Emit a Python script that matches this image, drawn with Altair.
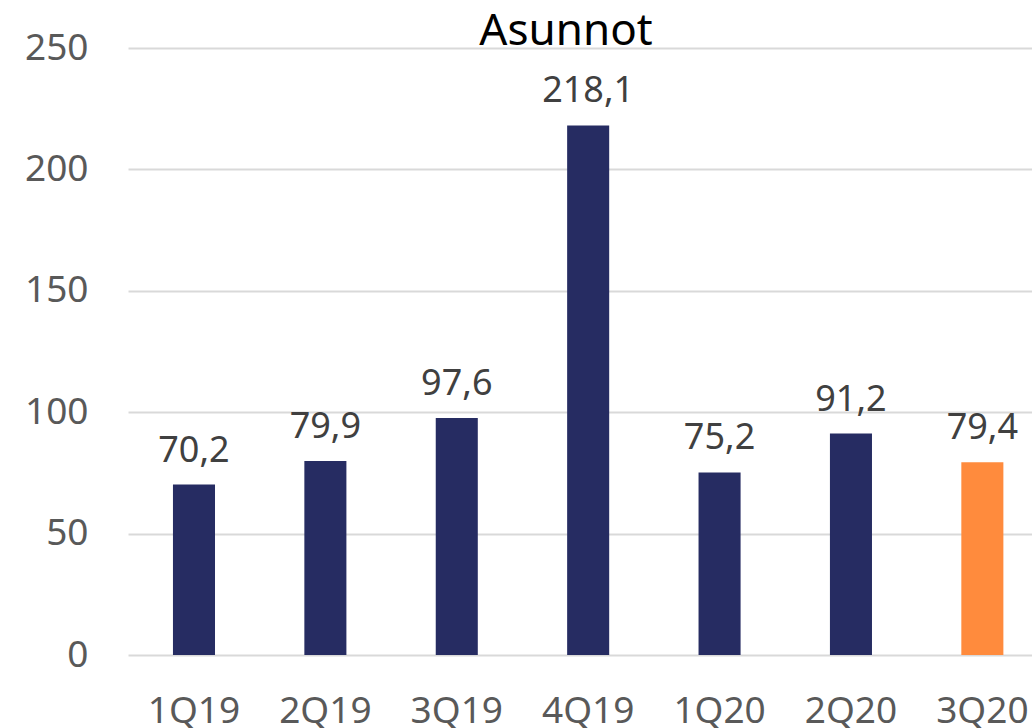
import altair as alt
import pandas as pd

quarters = ["1Q19", "2Q19", "3Q19", "4Q19", "1Q20", "2Q20", "3Q20"]
values = [70.2, 79.9, 97.6, 218.1, 75.2, 91.2, 79.4]
colors = ["#262C62", "#262C62", "#262C62", "#262C62", "#262C62", "#262C62", "#FF8B3D"]
y_ticks = [0, 50, 100, 150, 200, 250]
title_text = ["Asunnot"]

df = pd.DataFrame({
    "q": quarters,
    "v": values,
    "c": colors,
    "lbl": [f"{v:.1f}".replace(".", ",") for v in values],
})

FONT = "Noto Sans"

xscale = alt.Scale(paddingInner=0.68, paddingOuter=0.28, align=0.611)
yscale = alt.Scale(domain=[0, 250], nice=False, zero=True)

x = alt.X(
    "q:N", sort=quarters, title=None, scale=xscale,
    axis=alt.Axis(labelAngle=0, labelFontSize=37, labelColor="#595959", labelFont=FONT,
                  labelBaseline="alphabetic", labelPadding=67, ticks=False, domain=False,
                  grid=False, labelOverlap=False),
)
y = alt.Y(
    "v:Q", title=None, scale=yscale,
    axis=alt.Axis(values=y_ticks, labelFontSize=37, labelColor="#595959", labelFont=FONT,
                  labelPadding=40, ticks=False, domain=False, grid=True,
                  gridColor="#D9D9D9", gridWidth=1.8),
)

base = alt.Chart(df)
bars = base.mark_bar().encode(x=x, y=y, color=alt.Color("c:N", scale=None))
labels = base.mark_text(fontSize=36, font=FONT, color="#404040", baseline="alphabetic", dy=-23).encode(
    x=alt.X("q:N", sort=quarters, scale=xscale),
    y=alt.Y("v:Q", scale=yscale),
    text="lbl:N",
)
title = alt.Chart(pd.DataFrame({"t": title_text})).mark_text(
    fontSize=44, font=FONT, color="#000000", baseline="alphabetic", align="center"
).encode(x=alt.value(438), y=alt.value(-3), text="t:N")

chart = (bars + labels + title).properties(
    width=904,
    height=607,
    background="white",
    autosize=alt.AutoSizeParams(type="none"),
    padding={"left": 128, "top": 48, "right": 0, "bottom": 73},
).configure_view(strokeWidth=0, stroke="transparent")

chart.save("out.html", embed_options={"renderer": "svg", "actions": False})
